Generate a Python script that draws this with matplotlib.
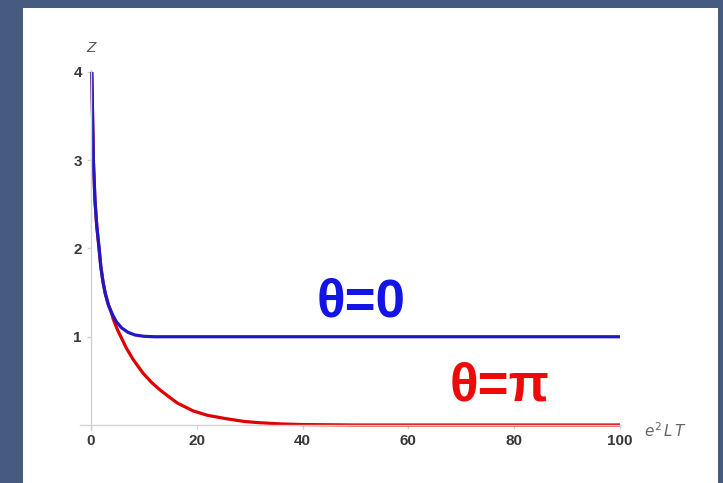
import matplotlib.pyplot as plt
from matplotlib.patches import Rectangle

# values
x_blue = [0.15, 0.3, 0.45, 0.75, 1.1, 1.5, 1.85, 2.25, 2.7, 3.3, 3.9, 4.8, 5.8,
          7.0, 8.3, 10.0, 12.0, 100]
z_blue = [4.0, 3.5, 3.0, 2.55, 2.25, 2.02, 1.8, 1.63, 1.49, 1.36, 1.27, 1.17, 1.10,
          1.05, 1.02, 1.005, 1.0, 1.0]

x_red = [0.15, 0.3, 0.45, 0.75, 1.1, 1.5, 1.85, 2.25, 2.7, 3.3, 3.9, 4.2, 5.0, 6.7,
         8.0, 9.8, 11.5, 13, 14.5, 16.3, 19.3, 22, 25.7, 29, 32, 36, 40, 50, 100]
z_red = [4.0, 3.5, 3.0, 2.55, 2.25, 2.02, 1.8, 1.63, 1.49, 1.36, 1.27, 1.2, 1.08, 0.87,
         0.74, 0.59, 0.48, 0.40, 0.33, 0.25, 0.16, 0.11, 0.07, 0.04, 0.025, 0.012, 0.005,
         0.0, 0.0]

x_ticks = [0, 20, 40, 60, 80, 100]
y_ticks = [1, 2, 3, 4]

W, H = 723, 483
fig = plt.figure(figsize=(W / 100, H / 100), dpi=100)
fig.patch.set_facecolor('#455b7f')
fig.patches.append(Rectangle((23 / W, 0), (718 - 23) / W, (H - 8) / H,
                             transform=fig.transFigure, facecolor='white',
                             edgecolor='none', zorder=-10))

left, right = 80.4, 620
bottom, top = 430.3, 70.2
ax = fig.add_axes([left / W, (H - bottom) / H, (right - left) / W, (bottom - top) / H])
ax.set_zorder(5)
ax.set_facecolor('none')
ax.set_xlim(-2, 100)
ax.set_ylim(-0.06, 4.02)

ax.plot(x_red, z_red, color='#e00000', lw=2.3, solid_capstyle='butt')
ax.plot(x_blue, z_blue, color='#2018c4', lw=2.3, solid_capstyle='butt')

for s in ['top', 'right']:
    ax.spines[s].set_visible(False)
ax.spines['left'].set_position(('data', 0))
ax.spines['bottom'].set_position(('data', 0))
for s in ['left', 'bottom']:
    ax.spines[s].set_color('#d2d2d2')
    ax.spines[s].set_linewidth(1.0)

ax.set_xticks(x_ticks)
ax.set_yticks(y_ticks)
ax.tick_params(colors='#d2d2d2', length=3, width=1, labelcolor='#383838',
               labelsize=11)
for lab in ax.get_xticklabels() + ax.get_yticklabels():
    lab.set_fontweight('bold')
    lab.set_family('Liberation Sans')

ax.text(0, 4.27, 'Z', ha='center', va='center', fontsize=11, style='italic',
        color='#555555', family='Liberation Sans')
ax.text(104.5, -0.06, r'$e^2\,L\,T$', ha='left', va='center', fontsize=11,
        color='#666666')

ax.text(51, 1.39, 'θ=0', ha='center', va='center', fontsize=38,
        fontweight='bold', color='#1414e6', family='Liberation Sans')
ax.text(77.3, 0.44, 'θ=π', ha='center', va='center', fontsize=38,
        fontweight='bold', color='#ee0a0a', family='Liberation Sans')

fig.savefig('out.png', dpi=100)
